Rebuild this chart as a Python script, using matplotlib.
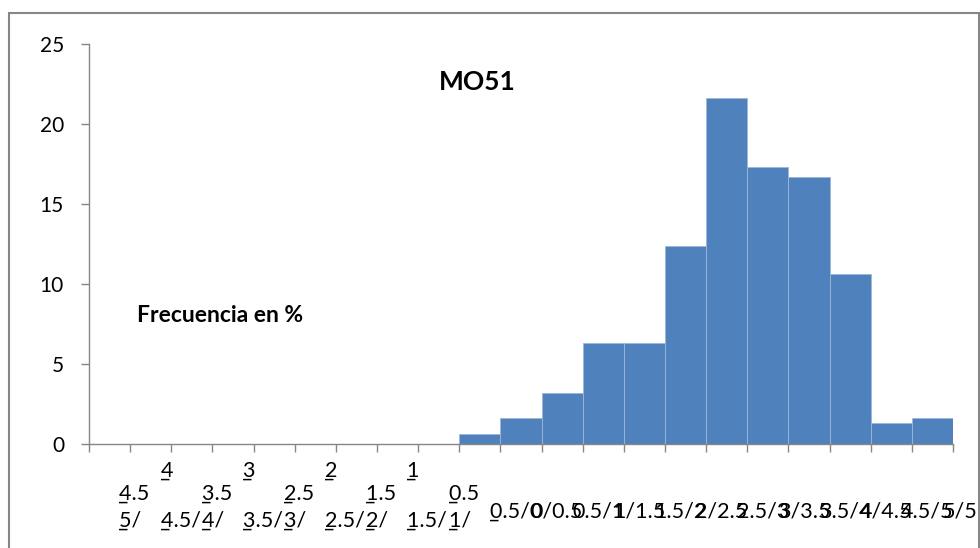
import matplotlib.pyplot as plt
from matplotlib.patches import Rectangle
from matplotlib.transforms import blended_transform_factory

plt.rcParams['font.family'] = ['Lato', 'DejaVu Sans']

# class intervals and frequency (%) per interval
intervalos = ['-5/-4.5', '-4.5/-4', '-4/-3.5', '-3.5/-3', '-3/-2.5', '-2.5/-2',
              '-2/-1.5', '-1.5/-1', '-1/-0.5', '-0.5/0', '0/0.5', '0.5/1',
              '1/1.5', '1.5/2', '2/2.5', '2.5/3', '3/3.5', '3.5/4', '4/4.5',
              '4.5/5', '5/5.5']
frecuencia = [0, 0, 0, 0, 0, 0, 0, 0, 0, 0.6, 1.6, 3.2, 6.3, 6.3, 12.4,
              21.6, 17.3, 16.7, 10.6, 1.3, 1.6]
y_ticks = [0, 5, 10, 15, 20, 25]

gris = '#868686'
azul = '#4F81BD'


def neg(s):
    # the minus sign shows up as a low line under the first digit
    partes = []
    for part in s.split('/'):
        if part.startswith('-'):
            part = '\u0332' + part[1:]
        partes.append(part)
    return '/'.join(partes)


fig = plt.figure(figsize=(9.8, 5.48), dpi=100)
ax = fig.add_axes([89 / 980, 1 - 444 / 548, 864 / 980, 400 / 548])

x = list(range(len(intervalos)))
ax.bar(x, frecuencia, width=1.0, color=azul, edgecolor='#9DB7D8', linewidth=0.6)

ax.set_xlim(-0.5, len(intervalos) - 0.5)
ax.set_ylim(0, 25)
ax.set_yticks(y_ticks)
ax.set_yticklabels([str(v) for v in y_ticks], fontsize=15)
ax.set_xticks([i - 0.5 for i in range(len(intervalos) + 1)])
ax.set_xticklabels([])
ax.tick_params(axis='both', direction='out', length=6, width=1, color=gris)
ax.tick_params(axis='y', pad=12)
for side in ['top', 'right']:
    ax.spines[side].set_visible(False)
for side in ['left', 'bottom']:
    ax.spines[side].set_color(gris)
    ax.spines[side].set_linewidth(1)

# category labels, drawn the way the spreadsheet wrapped them
tr = blended_transform_factory(ax.transData, ax.transAxes)
fs = 15.5
for i, lab in enumerate(intervalos):
    lo, hi = lab.split('/')
    x0 = i + 0.24
    if lo.startswith('-') and i < 9:
        y_top = -0.14 if i % 2 == 0 else -0.0825
        ax.text(x0, y_top, neg(hi), transform=tr, ha='left', va='baseline',
                fontsize=fs, clip_on=False)
        ax.text(x0, -0.2075, neg(lo) + '/', transform=tr, ha='left',
                va='baseline', fontsize=fs, clip_on=False)
    else:
        ax.text(x0, -0.185, neg(lab), transform=tr, ha='left', va='baseline',
                fontsize=fs, clip_on=False)

ax.text(0.449, 0.906, 'MO51', transform=ax.transAxes, ha='center',
        va='center', fontsize=19, fontweight='bold')
ax.text(0.055, 0.32, 'Frecuencia en %', transform=ax.transAxes, ha='left',
        va='center', fontsize=16.5, fontweight='bold')

# chart area frame
fig.patches.append(Rectangle((9 / 980, -0.1), 970 / 980, 1.1 - 13 / 548,
                             transform=fig.transFigure, fill=False,
                             edgecolor=gris, linewidth=1.5))

fig.savefig('out.png', dpi=100)
